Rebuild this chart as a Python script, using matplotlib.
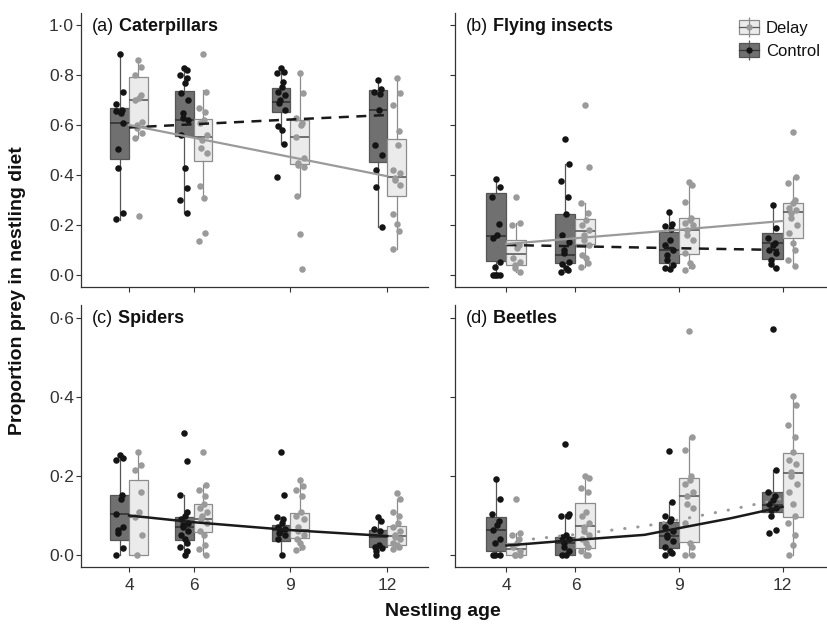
import numpy as np
import matplotlib
matplotlib.use("Agg")
import matplotlib.pyplot as plt
from matplotlib.patches import Patch
from matplotlib.lines import Line2D
from matplotlib.ticker import FuncFormatter
from matplotlib.legend_handler import HandlerTuple

plt.rcParams['font.family'] = ['Liberation Sans', 'DejaVu Sans']

ages = [4, 6, 9, 12]
top_yticks = [0.0, 0.2, 0.4, 0.6, 0.8, 1.0]
bottom_yticks = [0.0, 0.2, 0.4, 0.6]

# box stats per age: [lower whisker, q1, median, q3, upper whisker]
cat_ctrl_box = [[0.22, 0.463, 0.607, 0.667, 0.884], [0.25, 0.556, 0.62, 0.736, 0.83],
                [0.524, 0.651, 0.693, 0.747, 0.827], [0.193, 0.453, 0.66, 0.74, 0.78]]
cat_delay_box = [[0.549, 0.596, 0.70, 0.791, 0.859], [0.303, 0.456, 0.553, 0.623, 0.74],
                 [0.316, 0.443, 0.551, 0.62, 0.807], [0.103, 0.317, 0.393, 0.543, 0.791]]
fly_ctrl_box = [[0.0, 0.056, 0.157, 0.327, 0.383], [0.013, 0.047, 0.08, 0.244, 0.443],
                [0.027, 0.049, 0.10, 0.173, 0.253], [0.027, 0.063, 0.127, 0.167, 0.284]]
fly_delay_box = [[0.013, 0.04, 0.083, 0.14, 0.21], [0.033, 0.123, 0.177, 0.223, 0.287],
                 [0.027, 0.083, 0.18, 0.227, 0.373], [0.036, 0.147, 0.253, 0.287, 0.393]]
spi_ctrl_box = [[0.0, 0.038, 0.104, 0.152, 0.251], [0.0, 0.038, 0.07, 0.095, 0.152],
                [0.0, 0.036, 0.063, 0.076, 0.097], [0.0, 0.02, 0.046, 0.063, 0.095]]
spi_delay_box = [[0.0, 0.0, 0.095, 0.19, 0.262], [0.0, 0.059, 0.09, 0.129, 0.177],
                 [0.013, 0.042, 0.063, 0.107, 0.19], [0.015, 0.025, 0.048, 0.073, 0.143]]
bee_ctrl_box = [[0.0, 0.011, 0.063, 0.095, 0.192], [0.0, 0.0, 0.03, 0.046, 0.104],
                [0.0, 0.017, 0.048, 0.084, 0.133], [0.099, 0.11, 0.127, 0.159, 0.215]]
bee_delay_box = [[0.0, 0.0, 0.015, 0.03, 0.055], [0.0, 0.017, 0.073, 0.132, 0.20],
                 [0.0, 0.032, 0.15, 0.194, 0.298], [0.0, 0.097, 0.207, 0.257, 0.403]]

# individual nests (proportions)
cat_ctrl_pts = [[0.884, 0.733, 0.684, 0.66, 0.647, 0.655, 0.609, 0.503, 0.429, 0.247, 0.223],
                [0.83, 0.82, 0.80, 0.79, 0.77, 0.73, 0.70, 0.65, 0.63, 0.62, 0.56, 0.43, 0.35, 0.30, 0.25],
                [0.827, 0.813, 0.807, 0.773, 0.753, 0.733, 0.72, 0.70, 0.687, 0.66, 0.596, 0.58, 0.524, 0.393],
                [0.78, 0.743, 0.733, 0.725, 0.66, 0.52, 0.48, 0.42, 0.353, 0.193]]
cat_delay_pts = [[0.859, 0.833, 0.80, 0.72, 0.71, 0.70, 0.613, 0.60, 0.587, 0.568, 0.549, 0.236],
                 [0.884, 0.733, 0.667, 0.653, 0.62, 0.61, 0.56, 0.54, 0.507, 0.487, 0.357, 0.307, 0.169, 0.137],
                 [0.807, 0.727, 0.627, 0.607, 0.60, 0.553, 0.467, 0.447, 0.44, 0.433, 0.316, 0.163, 0.023],
                 [0.79, 0.727, 0.68, 0.577, 0.52, 0.42, 0.407, 0.39, 0.38, 0.36, 0.244, 0.204, 0.177, 0.103]]
fly_ctrl_pts = [[0.383, 0.353, 0.313, 0.203, 0.16, 0.15, 0.053, 0.033, 0.0, 0.0, 0.0, 0.0],
                [0.543, 0.443, 0.377, 0.313, 0.243, 0.16, 0.133, 0.10, 0.09, 0.053, 0.045, 0.03, 0.02, 0.013],
                [0.253, 0.204, 0.195, 0.185, 0.14, 0.12, 0.10, 0.08, 0.06, 0.04, 0.03, 0.025],
                [0.28, 0.19, 0.15, 0.13, 0.12, 0.10, 0.09, 0.06, 0.045, 0.027]]
fly_delay_pts = [[0.313, 0.21, 0.20, 0.12, 0.11, 0.07, 0.053, 0.04, 0.03, 0.013],
                 [0.68, 0.433, 0.287, 0.25, 0.22, 0.20, 0.18, 0.16, 0.14, 0.12, 0.08, 0.07, 0.05, 0.033],
                 [0.373, 0.36, 0.293, 0.23, 0.22, 0.21, 0.20, 0.18, 0.16, 0.14, 0.09, 0.05, 0.035, 0.02],
                 [0.573, 0.393, 0.37, 0.30, 0.29, 0.27, 0.26, 0.25, 0.23, 0.20, 0.17, 0.13, 0.10, 0.06, 0.036]]
spi_ctrl_pts = [[0.253, 0.246, 0.24, 0.152, 0.143, 0.104, 0.07, 0.063, 0.055, 0.017, 0.0],
                [0.31, 0.238, 0.152, 0.11, 0.10, 0.09, 0.08, 0.075, 0.07, 0.06, 0.05, 0.04, 0.03, 0.02, 0.01, 0.0],
                [0.262, 0.152, 0.097, 0.09, 0.08, 0.07, 0.065, 0.06, 0.055, 0.05, 0.04, 0.0],
                [0.095, 0.085, 0.065, 0.06, 0.025, 0.02, 0.018, 0.01, 0.0]]
spi_delay_pts = [[0.262, 0.228, 0.215, 0.16, 0.11, 0.095, 0.05, 0.0],
                 [0.26, 0.177, 0.165, 0.15, 0.13, 0.12, 0.11, 0.10, 0.09, 0.08, 0.06, 0.05, 0.025, 0.015, 0.0],
                 [0.19, 0.175, 0.165, 0.15, 0.11, 0.10, 0.09, 0.07, 0.06, 0.05, 0.04, 0.03, 0.02, 0.013],
                 [0.156, 0.143, 0.11, 0.10, 0.08, 0.07, 0.06, 0.05, 0.045, 0.04, 0.03, 0.025, 0.02, 0.015]]
bee_ctrl_pts = [[0.192, 0.142, 0.105, 0.087, 0.075, 0.063, 0.04, 0.03, 0.0, 0.0, 0.0],
                [0.28, 0.104, 0.10, 0.10, 0.05, 0.045, 0.04, 0.03, 0.02, 0.01, 0.0, 0.0],
                [0.263, 0.133, 0.10, 0.09, 0.085, 0.07, 0.06, 0.05, 0.045, 0.035, 0.02, 0.01, 0.005, 0.0],
                [0.572, 0.215, 0.16, 0.15, 0.14, 0.13, 0.12, 0.115, 0.10, 0.063, 0.055]]
bee_delay_pts = [[0.143, 0.055, 0.05, 0.04, 0.03, 0.02, 0.01, 0.0, 0.0, 0.0],
                 [0.20, 0.195, 0.17, 0.16, 0.11, 0.10, 0.08, 0.07, 0.06, 0.05, 0.04, 0.03, 0.02, 0.01, 0.0, 0.0],
                 [0.568, 0.298, 0.265, 0.20, 0.19, 0.18, 0.16, 0.15, 0.13, 0.12, 0.08, 0.03, 0.02, 0.0, 0.0],
                 [0.403, 0.38, 0.33, 0.30, 0.26, 0.24, 0.23, 0.21, 0.20, 0.18, 0.16, 0.13, 0.10, 0.08, 0.05, 0.025, 0.0]]

# model fits
cat_fit_ctrl = [0.59, 0.603, 0.622, 0.64]
cat_fit_delay = [0.60, 0.549, 0.472, 0.395]
fly_fit_ctrl = [0.12, 0.115, 0.107, 0.10]
fly_fit_delay = [0.124, 0.147, 0.181, 0.216]
spi_fit = [0.100, 0.083, 0.063, 0.048]
bee_fit_ctrl_x = [4, 6, 8, 9, 10.5, 12]
bee_fit_ctrl = [0.024, 0.038, 0.051, 0.068, 0.093, 0.122]
bee_fit_delay_x = [4.4, 6, 8, 9, 10.5, 12]
bee_fit_delay = [0.037, 0.052, 0.073, 0.089, 0.115, 0.143]

ctrl_face, ctrl_edge, ctrl_med, ctrl_dot = '#707070', '#555555', '#333333', '#141414'
delay_face, delay_edge, delay_med, delay_dot = '#ebebeb', '#8c8c8c', '#5a5a5a', '#9a9a9a'
ink = '#333333'

W, H = 827, 626
fig = plt.figure(figsize=(W / 100, H / 100), dpi=100)


def px_axes(l, t, r, b):
    return fig.add_axes([l / W, 1 - b / H, (r - l) / W, (b - t) / H])


ax_a = px_axes(81, 13, 428, 287)
ax_b = px_axes(455, 13, 826, 287)
ax_c = px_axes(81, 305, 428, 567)
ax_d = px_axes(455, 305, 826, 567)

dot_fmt = FuncFormatter(lambda v, p: f"{v:.1f}".replace('.', '\u00b7'))


def draw_groups(ax, ctrl_box, delay_box, ctrl_pts, delay_pts):
    groups = [(ctrl_box, ctrl_pts, -0.29, ctrl_face, ctrl_edge, ctrl_med, ctrl_dot),
              (delay_box, delay_pts, 0.29, delay_face, delay_edge, delay_med, delay_dot)]
    for boxes, pts, off, face, edge, med, dot in groups:
        stats = [dict(whislo=b[0], q1=b[1], med=b[2], q3=b[3], whishi=b[4]) for b in boxes]
        pos = [a + off for a in ages]
        ax.bxp(stats, positions=pos, widths=0.58, showfliers=False, showcaps=False,
               patch_artist=True, manage_ticks=False, zorder=1,
               boxprops=dict(facecolor=face, edgecolor=edge, linewidth=0.9),
               medianprops=dict(color=med, linewidth=1.2),
               whiskerprops=dict(color=edge, linewidth=0.9))
        for p, vals in zip(pos, pts):
            # fixed horizontal spread so the nests do not stack
            jit = 0.12 * np.sin(np.arange(len(vals)) * 2.3)
            ax.scatter(p + jit, vals, s=22, color=dot, linewidths=0, zorder=3)


def style(ax, ylim, yticks, xlabels, ylabels):
    ax.set_xlim(2.51, 13.26)
    ax.set_ylim(*ylim)
    ax.set_xticks(ages)
    ax.set_xticklabels([str(a) for a in ages])
    ax.set_yticks(yticks)
    ax.yaxis.set_major_formatter(dot_fmt)
    for s in ['top', 'right']:
        ax.spines[s].set_visible(False)
    for s in ['left', 'bottom']:
        ax.spines[s].set_color(ink)
        ax.spines[s].set_linewidth(0.9)
    ax.tick_params(axis='both', length=3.5, width=0.8, color=ink, labelcolor=ink, labelsize=12.5)
    ax.tick_params(axis='x', pad=4.5, labelbottom=xlabels)
    ax.tick_params(axis='y', pad=1.5, labelleft=ylabels)


def panel_title(ax, tag, name):
    t = ax.text(0.03, 0.95, tag, transform=ax.transAxes, fontsize=13, color='#111111',
                ha='left', va='center')
    ax.annotate(' ' + name, xy=(1, 0), xycoords=t, fontsize=13, fontweight='bold',
                color='#111111', ha='left', va='bottom')


# (a) Caterpillars
draw_groups(ax_a, cat_ctrl_box, cat_delay_box, cat_ctrl_pts, cat_delay_pts)
ax_a.plot(ages, cat_fit_ctrl, color='#1a1a1a', lw=1.8, ls=(0, (4, 3)), zorder=4)
ax_a.plot(ages, cat_fit_delay, color=delay_dot, lw=1.6, zorder=4)
style(ax_a, (-0.048, 1.048), top_yticks, False, True)
panel_title(ax_a, '(a)', 'Caterpillars')

# (b) Flying insects
draw_groups(ax_b, fly_ctrl_box, fly_delay_box, fly_ctrl_pts, fly_delay_pts)
ax_b.plot(ages, fly_fit_ctrl, color='#1a1a1a', lw=1.8, ls=(0, (4, 3)), zorder=4)
ax_b.plot(ages, fly_fit_delay, color=delay_dot, lw=1.6, zorder=4)
style(ax_b, (-0.048, 1.048), top_yticks, False, False)
panel_title(ax_b, '(b)', 'Flying insects')

# (c) Spiders
draw_groups(ax_c, spi_ctrl_box, spi_delay_box, spi_ctrl_pts, spi_delay_pts)
ax_c.plot(ages, spi_fit, color='#1a1a1a', lw=1.8, zorder=4)
style(ax_c, (-0.0304, 0.633), bottom_yticks, True, True)
panel_title(ax_c, '(c)', 'Spiders')

# (d) Beetles
draw_groups(ax_d, bee_ctrl_box, bee_delay_box, bee_ctrl_pts, bee_delay_pts)
ax_d.plot(bee_fit_ctrl_x, bee_fit_ctrl, color='#1a1a1a', lw=1.8, zorder=4)
ax_d.plot(bee_fit_delay_x, bee_fit_delay, color=delay_dot, lw=2.2, ls=(0, (0.1, 4.2)),
          dash_capstyle='round', zorder=4)
style(ax_d, (-0.0304, 0.633), bottom_yticks, True, False)
panel_title(ax_d, '(d)', 'Beetles')

# legend (box glyph with whisker, median and a nest point)
def legend_glyph(face, edge, med, dot):
    whisk = Line2D([], [], color=edge, marker='|', markersize=15, markeredgewidth=0.9, ls='')
    box = Patch(facecolor=face, edgecolor=edge, linewidth=0.9)
    mid = Line2D([], [], color=med, lw=0.9, marker='o', markersize=3.5,
                 markerfacecolor=dot, markeredgecolor=dot)
    return (box, whisk, mid)


ax_b.legend([legend_glyph(delay_face, delay_edge, delay_med, delay_dot),
             legend_glyph(ctrl_face, ctrl_edge, ctrl_med, ctrl_dot)],
            ['Delay', 'Control'], handler_map={tuple: HandlerTuple(ndivide=1, pad=0)},
            loc='upper right', bbox_to_anchor=(1.01, 1.01), frameon=False, fontsize=12,
            handlelength=1.2, handleheight=0.9, labelspacing=0.45, handletextpad=0.4,
            borderaxespad=0.2, labelcolor='#111111')

fig.text(18 / W, 1 - 291 / H, 'Proportion prey in nestling diet', rotation=90,
         fontsize=14, fontweight='bold', color='#111111', ha='center', va='center')
fig.text(443 / W, 1 - 612 / H, 'Nestling age', fontsize=14, fontweight='bold',
         color='#111111', ha='center', va='center')

fig.savefig('out.png', dpi=100)
